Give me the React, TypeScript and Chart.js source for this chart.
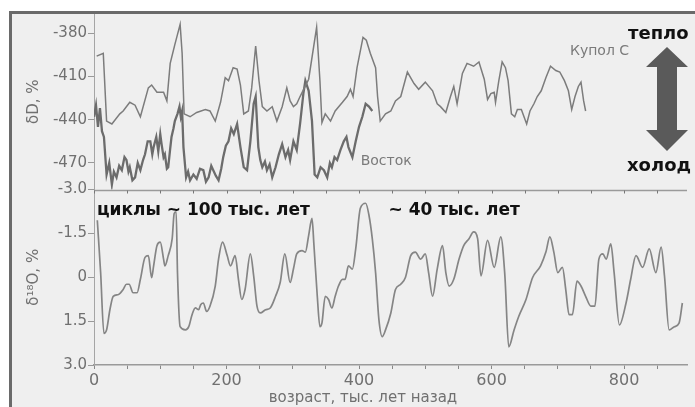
import React, { useEffect, useRef } from 'react';
import { Chart, registerables } from 'chart.js';

Chart.register(...registerables);

const FONT = '"DejaVu Sans", "Open Sans", sans-serif';

// ---- Data ----
// EPICA Dome C (Купол С), δD ‰, age in thousand years
const domeCAge = [4, 14, 19, 27, 39, 44, 54, 62, 70, 82, 87, 95, 105, 110, 115, 122, 130, 133, 136, 145, 155, 168, 175, 183, 191, 198, 203, 210, 216, 221, 226, 233, 238, 244, 249, 254, 261, 269, 276, 284, 291, 296, 301, 306, 311, 324, 336, 341, 344, 349, 357, 364, 375, 382, 387, 391, 397, 406, 411, 417, 425, 428, 432, 440, 448, 455, 463, 473, 483, 490, 500, 511, 518, 523, 531, 538, 543, 548, 556, 563, 573, 581, 589, 594, 599, 604, 606, 611, 616, 621, 625, 630, 635, 639, 645, 649, 653, 658, 664, 669, 675, 682, 689, 697, 703, 710, 716, 721, 726, 731, 735, 739, 742];
const domeCDelta = [-396, -394, -441, -443, -436, -434, -428, -430, -438, -418, -416, -421, -421, -427, -401, -388, -374, -394, -436, -438, -435, -433, -434, -441, -428, -411, -413, -404, -405, -416, -436, -434, -418, -389, -413, -431, -434, -431, -441, -431, -418, -427, -431, -429, -424, -412, -376, -413, -442, -436, -441, -434, -428, -424, -419, -424, -404, -383, -385, -394, -404, -424, -441, -436, -434, -427, -424, -407, -415, -419, -414, -420, -429, -431, -435, -424, -417, -429, -408, -401, -403, -400, -412, -426, -422, -421, -428, -413, -400, -404, -413, -436, -438, -433, -433, -438, -443, -434, -429, -424, -420, -411, -403, -406, -407, -413, -420, -433, -424, -417, -414, -427, -434];

// Vostok (Восток), δD ‰
const vostokAge = [0, 3, 6, 9, 12, 15, 19, 23, 27, 30, 34, 38, 42, 46, 49, 52, 54, 58, 62, 66, 70, 74, 77, 81, 85, 88, 90, 94, 97, 100, 102, 105, 107, 110, 112, 115, 117, 120, 122, 126, 129, 131, 133, 135, 139, 142, 145, 150, 155, 160, 165, 169, 173, 177, 180, 184, 188, 192, 195, 199, 203, 207, 211, 216, 221, 226, 231, 236, 241, 244, 248, 251, 254, 258, 261, 265, 269, 274, 279, 284, 289, 293, 296, 301, 306, 311, 316, 319, 324, 329, 333, 337, 342, 347, 352, 356, 359, 363, 367, 372, 377, 381, 384, 390, 395, 400, 405, 410, 415, 420];
const vostokDelta = [-438, -430, -445, -432, -448, -452, -478, -470, -485, -476, -480, -472, -475, -466, -468, -476, -473, -482, -480, -470, -475, -468, -464, -455, -455, -464, -459, -452, -462, -450, -457, -466, -464, -474, -473, -460, -452, -446, -441, -436, -431, -438, -434, -459, -480, -476, -482, -478, -481, -474, -475, -483, -480, -472, -475, -479, -482, -474, -466, -458, -455, -446, -450, -443, -459, -473, -475, -455, -429, -424, -459, -468, -473, -469, -475, -471, -480, -473, -464, -457, -466, -461, -468, -455, -461, -443, -422, -413, -420, -441, -478, -480, -473, -475, -480, -470, -473, -466, -468, -461, -455, -452, -459, -466, -455, -445, -438, -429, -431, -434];

// Benthic δ18O ‰ (lower panel, reversed axis)
const benthicAge = [5, 10, 15, 19, 24, 29, 37, 44, 49, 53, 59, 65, 70, 77, 82, 87, 90, 95, 100, 105, 107, 112, 118, 121, 124, 126, 130, 138, 143, 148, 153, 158, 161, 165, 170, 175, 183, 188, 194, 201, 206, 213, 218, 223, 228, 236, 241, 246, 251, 259, 266, 274, 281, 288, 296, 301, 306, 314, 319, 324, 329, 332, 337, 341, 344, 349, 354, 359, 364, 369, 375, 379, 384, 390, 395, 402, 410, 415, 420, 425, 430, 435, 440, 448, 455, 463, 470, 478, 485, 493, 500, 505, 511, 518, 526, 531, 536, 543, 551, 558, 566, 573, 579, 584, 594, 604, 614, 620, 626, 634, 641, 652, 662, 674, 682, 688, 694, 700, 707, 712, 717, 722, 729, 735, 742, 750, 756, 762, 768, 773, 780, 785, 793, 803, 810, 818, 828, 838, 848, 856, 861, 868, 876, 883, 888];
const benthicO18 = [-1.95, -0.16, 1.92, 1.8, 1.11, 0.65, 0.59, 0.42, 0.24, 0.24, 0.53, 0.53, 0.07, -0.68, -0.74, 0.01, -0.39, -1.08, -1.2, -0.62, -0.39, -0.74, -1.32, -2.18, -2.24, -0.16, 1.69, 1.8, 1.69, 1.28, 1.05, 1.11, 0.94, 0.88, 1.17, 0.99, 0.3, -0.62, -1.2, -0.74, -0.39, -0.74, 0.07, 0.76, 0.42, -0.8, -0.05, 0.99, 1.22, 1.11, 1.05, 0.65, 0.18, -0.8, 0.18, -0.28, -0.8, -0.91, -0.86, -1.43, -2.01, -1.08, 0.65, 1.69, 1.57, 0.65, 0.76, 1.05, 0.65, 0.3, 0.07, 0.07, -0.39, -0.28, -0.97, -2.36, -2.53, -2.12, -1.32, -0.16, 1.45, 2.03, 1.8, 1.22, 0.42, 0.24, 0.01, -0.74, -0.86, -0.62, -0.8, -0.16, 0.65, -0.28, -1.08, -0.16, 0.3, 0.07, -0.62, -1.08, -1.32, -1.55, -1.32, -0.05, -1.26, -0.34, -1.38, -0.1, 2.38, 1.8, 1.34, 0.76, 0.01, -0.39, -0.86, -1.38, -0.86, -0.16, -0.34, 0.42, 1.28, 1.28, 0.13, 0.3, 0.65, 0.99, 0.99, -0.62, -0.8, -0.62, -1.14, -0.16, 1.63, 0.88, 0.07, -0.74, -0.34, -0.97, -0.16, -1.03, -0.05, 1.8, 1.69, 1.57, 0.88];

// Axes
const xTickValues = [0, 50, 100, 150, 200, 250, 300, 350, 400, 450, 500, 550, 600, 650, 700, 750, 800, 850];
const xTickLabels = [0, 200, 400, 600, 800];
const dTicks = [-470, -440, -410, -380];
const oTicks = [-3, -1.5, 0, 1.5, 3];

const X_MIN = 0;
const X_MAX = 895;
const D_MIN = -488.4;
const D_MAX = -366.8;
const O_MIN = -3;
const O_MAX = 3;

const TICK_COLOR = '#707070';

const decorPlugin = {
  id: 'decor',
  beforeDraw(chart: any) {
    const { ctx, width, height } = chart;
    ctx.save();
    ctx.fillStyle = '#ffffff';
    ctx.fillRect(0, 0, width, height);
    ctx.fillStyle = '#efefef';
    ctx.fillRect(11, 13, width - 11, height - 13);
    ctx.fillStyle = '#6a6a6a';
    ctx.fillRect(9, 11, width - 9, 3);
    ctx.fillRect(9, 11, 3, height - 11);
    ctx.restore();
  },
  afterDraw(chart: any) {
    const { ctx, chartArea } = chart;
    const x = chart.scales.x;
    const yD = chart.scales.yD;
    const yO = chart.scales.yO;
    ctx.save();
    // separator line between panels with ticks
    const ySep = Math.round(yO.top) + 0.5;
    ctx.strokeStyle = '#9a9a9a';
    ctx.lineWidth = 1.5;
    ctx.beginPath();
    ctx.moveTo(chartArea.left, ySep);
    ctx.lineTo(chartArea.right, ySep);
    ctx.stroke();
    ctx.lineWidth = 1;
    ctx.strokeStyle = '#777';
    xTickValues.forEach((v) => {
      const px = Math.round(x.getPixelForValue(v)) + 0.5;
      ctx.beginPath();
      ctx.moveTo(px, ySep);
      ctx.lineTo(px, ySep + 3);
      ctx.stroke();
    });

    // series labels
    ctx.fillStyle = '#7a7a7a';
    ctx.font = `14px ${FONT}`;
    ctx.textAlign = 'center';
    ctx.textBaseline = 'middle';
    ctx.fillText('Купол С', x.getPixelForValue(763), yD.getPixelForValue(-392.5));
    ctx.fillText('Восток', x.getPixelForValue(441), yD.getPixelForValue(-468.7));

    // cycle annotations
    ctx.fillStyle = '#111';
    ctx.font = `bold 17px ${FONT}`;
    ctx.textAlign = 'left';
    ctx.fillText('циклы ~ 100 тыс. лет', x.getPixelForValue(4.5), yO.getPixelForValue(-2.28));
    ctx.fillText('~ 40 тыс. лет', x.getPixelForValue(444.5), yO.getPixelForValue(-2.28));

    // warm / cold arrow
    const ax = 667;
    ctx.fillStyle = '#5a5a5a';
    ctx.beginPath();
    ctx.moveTo(ax, 47);
    ctx.lineTo(ax + 21, 67);
    ctx.lineTo(ax + 10, 67);
    ctx.lineTo(ax + 10, 130);
    ctx.lineTo(ax + 21, 130);
    ctx.lineTo(ax, 151);
    ctx.lineTo(ax - 21, 130);
    ctx.lineTo(ax - 10, 130);
    ctx.lineTo(ax - 10, 67);
    ctx.lineTo(ax - 21, 67);
    ctx.closePath();
    ctx.fill();

    ctx.fillStyle = '#111';
    ctx.font = `bold 18px ${FONT}`;
    ctx.textAlign = 'left';
    ctx.fillText('тепло', 628, 34);
    ctx.fillText('холод', 627, 166);

    // x axis title
    ctx.fillStyle = TICK_COLOR;
    ctx.font = `15px ${FONT}`;
    ctx.textAlign = 'center';
    ctx.fillText('возраст, тыс. лет назад', 363, 398);
    ctx.restore();
  },
};

export default function App() {
  const ref = useRef<HTMLCanvasElement | null>(null);

  useEffect(() => {
    if (!ref.current) return;
    const chart = new Chart(ref.current, {
      type: 'line',
      data: {
        datasets: [
          {
            label: 'Купол С',
            data: domeCAge.map((a, i) => ({ x: a, y: domeCDelta[i] })),
            yAxisID: 'yD',
            borderColor: '#7c7c7c',
            borderWidth: 1.5,
            pointRadius: 0,
            tension: 0,
          },
          {
            label: 'Восток',
            data: vostokAge.map((a, i) => ({ x: a, y: vostokDelta[i] })),
            yAxisID: 'yD',
            borderColor: '#6c6c6c',
            borderWidth: 2.3,
            pointRadius: 0,
            tension: 0,
          },
          {
            label: 'δ18O',
            data: benthicAge.map((a, i) => ({ x: a, y: benthicO18[i] })),
            yAxisID: 'yO',
            borderColor: '#858585',
            borderWidth: 1.7,
            pointRadius: 0,
            cubicInterpolationMode: 'monotone',
          },
        ],
      },
      options: {
        animation: false,
        responsive: false,
        maintainAspectRatio: false,
        layout: { padding: { left: 0, top: 14, right: 8, bottom: 0 } },
        plugins: { legend: { display: false }, tooltip: { enabled: false } },
        scales: {
          x: {
            type: 'linear',
            min: X_MIN,
            max: X_MAX,
            afterBuildTicks: (s: any) => {
              s.ticks = xTickValues.map((v) => ({ value: v }));
            },
            afterFit: (s: any) => {
              s.height = 42;
            },
            ticks: {
              autoSkip: false,
              maxRotation: 0,
              color: TICK_COLOR,
              font: { family: FONT, size: 16 },
              padding: 2,
              callback: (v: any) => (xTickLabels.includes(Number(v)) ? String(v) : ''),
            },
            grid: { drawOnChartArea: false, tickLength: 4, color: '#888' },
            border: { color: '#9a9a9a', width: 1.5 },
          },
          yO: {
            type: 'linear',
            position: 'left',
            stack: 'panels',
            stackWeight: 1,
            reverse: true,
            min: O_MIN,
            max: O_MAX,
            afterBuildTicks: (s: any) => {
              s.ticks = oTicks.map((v) => ({ value: v }));
            },
            afterFit: (s: any) => {
              s.width = 94;
            },
            ticks: {
              color: TICK_COLOR,
              font: { family: FONT, size: 15 },
              padding: 1,
              callback: (v: any) => (Number(v) === 0 ? '0' : Number(v).toFixed(1)),
            },
            grid: { drawOnChartArea: false, tickLength: 6, color: '#999' },
            border: { color: '#a5a5a5', width: 1 },
            title: {
              display: true,
              text: 'δ¹⁸O, %',
              color: TICK_COLOR,
              font: { family: FONT, size: 15 },
              padding: { top: 25, bottom: 0 },
            },
          },
          yD: {
            type: 'linear',
            position: 'left',
            stack: 'panels',
            stackWeight: 1,
            min: D_MIN,
            max: D_MAX,
            afterBuildTicks: (s: any) => {
              s.ticks = dTicks.map((v) => ({ value: v }));
            },
            afterFit: (s: any) => {
              s.width = 94;
            },
            ticks: {
              color: TICK_COLOR,
              font: { family: FONT, size: 15 },
              padding: 1,
              callback: (v: any) => String(v),
            },
            grid: { drawOnChartArea: false, tickLength: 6, color: '#999' },
            border: { color: '#a5a5a5', width: 1 },
            title: {
              display: true,
              text: 'δD, %',
              color: TICK_COLOR,
              font: { family: FONT, size: 15 },
              padding: { top: 25, bottom: 0 },
            },
          },
        },
      },
      plugins: [decorPlugin],
    } as any);
    return () => chart.destroy();
  }, []);

  return (
    <div style={{ position: 'fixed', left: 0, top: 0, width: 695, height: 407 }}>
      <canvas ref={ref} width={695} height={407} style={{ display: 'block', width: 695, height: 407 }} />
    </div>
  );
}
